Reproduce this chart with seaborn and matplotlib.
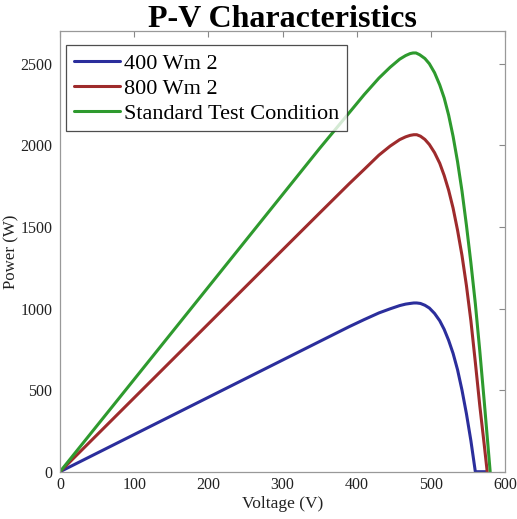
import numpy as np
import pandas as pd
import matplotlib
matplotlib.use("Agg")
import matplotlib.pyplot as plt
import seaborn as sns

# values
v_400 = [0, 100, 200, 300, 350, 390, 410, 430, 445, 458, 466, 472, 477, 481, 486, 492, 498,
         505, 512, 518, 524, 530, 536, 542, 548, 554, 560, 566, 575]
p_400 = [0, 228, 456, 684, 798, 889, 932, 973, 998, 1018, 1027, 1031, 1034, 1034, 1031, 1020, 1003,
         970, 925, 872, 805, 725, 625, 500, 355, 190, 0, 0, 0]

v_800 = [0, 100, 200, 300, 350, 390, 410, 430, 445, 458, 466, 472, 477, 481, 486, 492, 498,
         505, 512, 518, 524, 530, 536, 542, 548, 554, 560, 566, 572, 576]
p_800 = [0, 453, 906, 1359, 1585, 1765, 1852, 1940, 1995, 2035, 2052, 2061, 2065, 2065, 2056, 2036, 2005,
         1955, 1890, 1815, 1725, 1615, 1480, 1325, 1140, 925, 670, 405, 165, 0]

v_stc = [0, 100, 200, 300, 350, 390, 410, 430, 445, 458, 466, 472, 476, 480, 485, 492, 498,
         505, 512, 518, 524, 530, 536, 542, 548, 554, 560, 566, 572, 576, 580]
p_stc = [0, 566, 1132, 1698, 1981, 2200, 2310, 2412, 2478, 2528, 2550, 2562, 2566, 2566, 2555, 2532, 2500,
         2445, 2370, 2290, 2185, 2055, 1900, 1720, 1510, 1280, 1030, 740, 430, 215, 0]

labels = ["400 Wm 2", "800 Wm 2", "Standard Test Condition"]
colors = ["#2B2E9C", "#9E2B2C", "#2E9A2E"]

sns.set_style("white")
plt.rcParams["font.family"] = ["Liberation Serif", "DejaVu Serif"]
plt.rcParams["text.color"] = "black"

fig = plt.figure(figsize=(5.17, 5.19), dpi=100)
ax = fig.add_axes([0.1161, 0.0911, 0.8607, 0.849])

for v, p, lab, col in zip([v_400, v_800, v_stc], [p_400, p_800, p_stc], labels, colors):
    df = pd.DataFrame({"Voltage": v, "Power": p})
    sns.lineplot(data=df, x="Voltage", y="Power", ax=ax, color=col, lw=2.2,
                 label=lab, sort=False, estimator=None)

ax.set_xlim(0, 600)
ax.set_ylim(0, 2700)
ax.set_xticks(np.arange(0, 601, 100))
ax.set_yticks(np.arange(0, 2501, 500))
ax.tick_params(direction="in", length=4, width=0.8, colors="#888888",
               labelcolor="#222222", labelsize=11.5, top=True, right=True)
ax.tick_params(axis="y", pad=5.5)
ax.tick_params(axis="x", pad=4)
for s in ax.spines.values():
    s.set_color("#999999")
    s.set_linewidth(0.9)

ax.set_xlabel("Voltage (V)", fontsize=12.5, color="#222222", labelpad=2)
ax.set_ylabel("Power (W)", fontsize=12.2, color="#222222", labelpad=1)
ax.set_title("P-V Characteristics", fontsize=23, fontweight="bold", pad=3, color="black")

leg = ax.legend(loc="upper left", bbox_to_anchor=(0.013, 0.968), fontsize=16,
                frameon=True, fancybox=False, handlelength=2.1, handletextpad=0.15,
                borderaxespad=0, borderpad=0.35, labelspacing=0.2)
leg.get_frame().set_edgecolor("#222222")
leg.get_frame().set_linewidth(0.9)
for t in leg.get_texts():
    t.set_color("black")

fig.savefig("out.png", dpi=100)
